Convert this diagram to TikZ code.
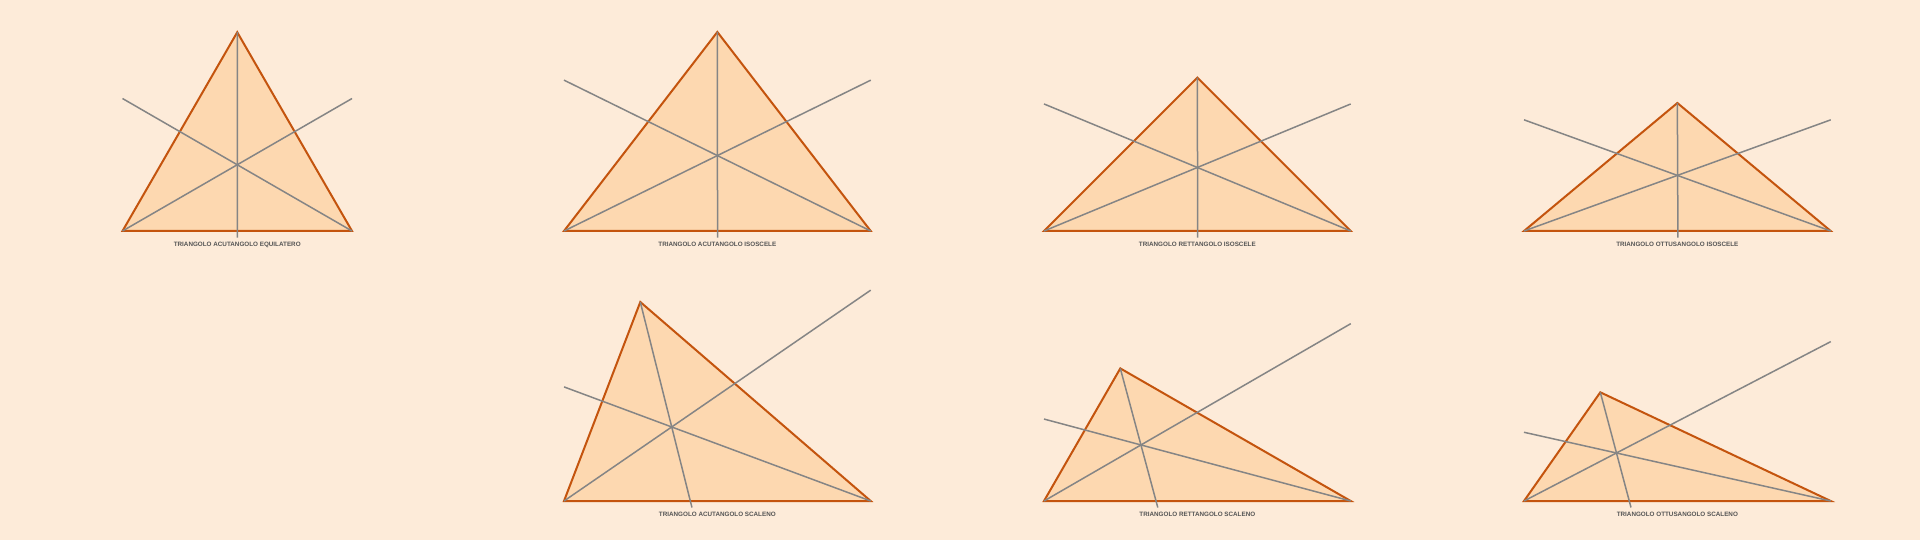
\documentclass[tikz,border=0pt]{standalone}
\usepackage{fontspec}
\newfontfamily\etifont{Liberation Sans}
\usetikzlibrary{calc}

\definecolor{sfondo}{HTML}{FDEBD9}
\definecolor{riempi}{HTML}{FDD8B0}
\definecolor{bordo}{HTML}{C4540E}
\definecolor{bisettrice}{HTML}{858585}
\definecolor{testo}{HTML}{555555}

\tikzset{
  triangolo/.style={draw=bordo, fill=riempi, line width=2pt},
  bis/.style={draw=bisettrice, line width=1.5pt},
  etichetta/.style={font=\etifont\bfseries\fontsize{6.3}{7.5}\selectfont, text=testo, inner sep=0pt}
}

\begin{document}
\begin{tikzpicture}[x=1pt, y=-1pt]

  \fill[sfondo] (0,0) rectangle (1920,540);
  \useasboundingbox (0,0) rectangle (1920,540);

  % Ax / base y / width / apex x / apex y / label
  \foreach \i/\ax/\by/\w/\cx/\cy/\lab in {
      1/122.5/231/229.5/237.25/32.25/TRIANGOLO ACUTANGOLO EQUILATERO,
      2/564/231/306.7/717.35/32/TRIANGOLO ACUTANGOLO ISOSCELE,
      3/1044/231/306.7/1197.35/77.65/TRIANGOLO RETTANGOLO ISOSCELE,
      4/1524/231/306.7/1677.35/103/TRIANGOLO OTTUSANGOLO ISOSCELE,
      6/564/501/306.7/640.3/302/TRIANGOLO ACUTANGOLO SCALENO,
      7/1044/501/306.7/1120.3/368.4/TRIANGOLO RETTANGOLO SCALENO,
      8/1524/501/306.7/1600.3/392.3/TRIANGOLO OTTUSANGOLO SCALENO}
  {
    \coordinate (A\i) at (\ax,\by);
    \coordinate (B\i) at (\ax+\w,\by);
    \coordinate (C\i) at (\cx,\cy);

    % bisector directions
    \coordinate (Ca\i) at ($(A\i)!\w pt!(C\i)$);
    \coordinate (Ma\i) at ($(B\i)!0.5!(Ca\i)$);
    \coordinate (Cb\i) at ($(B\i)!\w pt!(C\i)$);
    \coordinate (Mb\i) at ($(A\i)!0.5!(Cb\i)$);
    \coordinate (I\i) at (intersection cs: first line={(A\i)--(Ma\i)}, second line={(B\i)--(Mb\i)});

    % end points
    \coordinate (At\i) at ($(A\i)+(0,-10)$);
    \coordinate (Bt\i) at ($(B\i)+(0,-10)$);
    \coordinate (Ab\i) at ($(A\i)+(0,6.5)$);
    \coordinate (Bb\i) at ($(B\i)+(0,6.5)$);
    \coordinate (Ea\i) at (intersection cs: first line={(A\i)--(Ma\i)}, second line={(B\i)--(Bt\i)});
    \coordinate (Eb\i) at (intersection cs: first line={(B\i)--(Mb\i)}, second line={(A\i)--(At\i)});
    \coordinate (Ec\i) at (intersection cs: first line={(C\i)--(I\i)}, second line={(Ab\i)--(Bb\i)});

    \draw[triangolo] (A\i) -- (B\i) -- (C\i) -- cycle;
    \draw[bis] (A\i) -- (Ea\i);
    \draw[bis] (B\i) -- (Eb\i);
    \draw[bis] (C\i) -- (Ec\i);

    \node[etichetta] (lab\i) at ($(A\i)!0.5!(B\i)+(0,13.5)$) {\lab};
  }

\end{tikzpicture}
\end{document}
